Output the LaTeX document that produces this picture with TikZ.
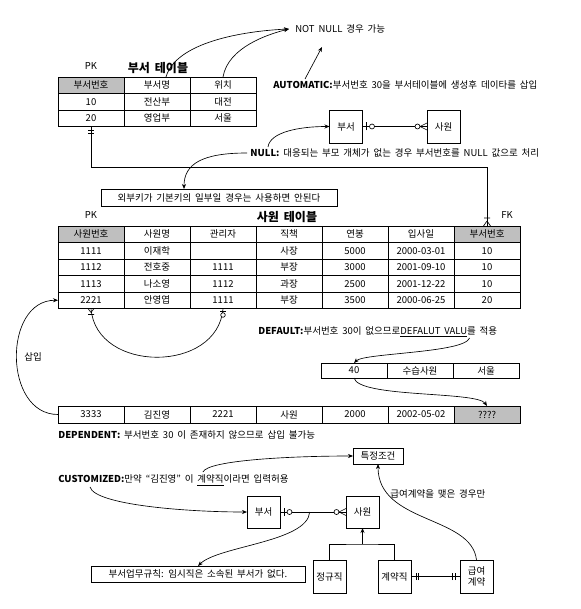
\documentclass[tikz,border=0pt]{standalone}
\usepackage{fontspec}
\setmainfont{Noto Sans CJK KR}[WordSpace=1.8]
\usetikzlibrary{positioning,arrows.meta,calc}

\begin{document}
\begin{tikzpicture}[
    x=1pt, y=-1pt,
    font=\fontsize{9.5}{11}\selectfont,
    line width=0.65pt,
    cell/.style   = {draw, line width=0.75pt, minimum width=66pt, minimum height=16.5pt,
                     inner sep=0pt, outer sep=0pt, anchor=north west},
    pkcell/.style = {cell, fill=gray!50},
    ent/.style    = {draw, minimum width=33pt, minimum height=33pt, align=center,
                     inner sep=0pt, outer sep=0pt},
    note/.style   = {draw, minimum height=17pt, inner sep=0pt, outer sep=0pt},
    txt/.style    = {inner sep=0pt, anchor=west},
    ttl/.style    = {font=\fontsize{12}{14}\selectfont\bfseries, inner sep=0pt},
    ar/.style     = {-{Stealth[length=5pt,width=4pt]}},
]
\useasboundingbox (0,0) rectangle (580,609);

% ---------------- dept table ----------------
\foreach \txt/\sty [count=\j] in {부서번호/pkcell, 부서명/cell, 위치/cell}
    \node[\sty] (d0\j) at ({58+66*(\j-1)},77) {\txt};
\foreach \row [count=\i] in {{10,전산부,대전},{20,영업부,서울}}
    \foreach \txt [count=\j] in \row
        \node[cell] (d\i\j) at ({58+66*(\j-1)},{77+16.5*\i}) {\txt};
\node[above=4pt of d01] (pk1) {PK};
\node[ttl] (ttl1) at (158,68) {부서 테이블};

% ---------------- employee table ----------------
\foreach \txt/\sty [count=\j] in {사원번호/pkcell, 사원명/cell, 관리자/cell, 직책/cell,
                                   연봉/cell, 입사일/cell, 부서번호/pkcell}
    \node[\sty] (e0\j) at ({58+66*(\j-1)},226) {\txt};
\foreach \row [count=\i] in {{1111,이재학,{},사장,5000,2000-03-01,10},
                             {1112,전호중,1111,부장,3000,2001-09-10,10},
                             {1113,나소영,1112,과장,2500,2001-12-22,10},
                             {2221,안영엽,1111,부장,3500,2000-06-25,20}}
    \foreach \txt [count=\j] in \row
        \node[cell] (e\i\j) at ({58+66*(\j-1)},{226+16.5*\i}) {\txt};
\node[above=4pt of e01] (pk2) {PK};
\node[ttl] (ttl2) at (287,217) {사원 테이블};
\node (fk) at (507,215) {FK};

% ---------------- NOT NULL / AUTOMATIC ----------------
\node[txt] (nn) at (295,29) {NOT NULL 경우 가능};
\node[txt] (auto) at (273,85) {\textbf{AUTOMATIC:}부서번호 30을 부서테이블에 생성후 데이타를 삽입};
\draw[ar] ([xshift=9pt]d02.north) .. controls +(10,-35) and +(-45,2) .. ([xshift=-6pt]nn.west);
\draw[ar] (d03.north) .. controls +(5,-30) and +(-20,5) .. ([xshift=-6pt]nn.west);
\draw[ar] ([xshift=32pt, yshift=6pt]auto.west) -- ([xshift=27pt, yshift=-18pt]nn.west);

% ---------------- NULL ----------------
\node[ent] (dept1) at (346,126.5) {부서};
\node[ent] (emp1) at (443.5,126.5) {사원};
\draw (dept1.east) -- (emp1.west);
\draw ([xshift=4pt, yshift=-4pt]dept1.east) -- ([xshift=4pt, yshift=4pt]dept1.east);
\draw[fill=white] ([xshift=9.5pt]dept1.east) circle (2.5pt);
\draw[fill=white] ([xshift=-9.5pt]emp1.west) circle (2.5pt);
\draw ([xshift=-7pt]emp1.west) -- ([yshift=3.5pt]emp1.west)
      ([xshift=-7pt]emp1.west) -- ([yshift=-3.5pt]emp1.west);

\node[txt] (nul) at (250,153) {\textbf{NULL:} 대응되는 부모 개체가 없는 경우 부서번호를 NULL 값으로 처리};
\node[note, minimum width=236pt] (fkrule) at (219,197.5) {외부키가 기본키의 일부일 경우는 사용하면 안된다};
\draw[ar] ([xshift=18pt, yshift=6pt]nul.west) .. controls +(2,-15) and +(-30,0) .. (dept1.west);
\draw[ar] ([xshift=-3pt]nul.west) .. controls +(-45,0) and +(0,-25) .. ([xshift=-35pt]fkrule.north);

% foreign key dept -> employee
\draw (d21.south) -- ++(0,40.5) -| (e07.north);
\draw ([xshift=-3pt, yshift=-4pt]d21.south) -- ([xshift=3pt, yshift=-4pt]d21.south)
      ([xshift=-3pt, yshift=-7pt]d21.south) -- ([xshift=3pt, yshift=-7pt]d21.south);
\draw ([xshift=-3pt, yshift=8pt]e07.north) -- ([xshift=3pt, yshift=8pt]e07.north)
      ([yshift=5pt]e07.north) -- ([xshift=-3.5pt]e07.north)
      ([yshift=5pt]e07.north) -- ([xshift=3.5pt]e07.north);

% self relation manager
\draw (e41.south) .. controls +(5,65) and +(-5,65) .. (e43.south);
\draw ([xshift=-3pt, yshift=-6pt]e41.south) -- ([xshift=3pt, yshift=-6pt]e41.south)
      ([yshift=-4pt]e41.south) -- ([xshift=-3pt]e41.south)
      ([yshift=-4pt]e41.south) -- ([xshift=3pt]e41.south);
\draw ([xshift=-3pt, yshift=-2.5pt]e43.south) -- ([xshift=3pt, yshift=-2.5pt]e43.south);
\draw[fill=white] ([yshift=-6.5pt]e43.south) circle (2.3pt);

% ---------------- DEFAULT ----------------
\node[txt] (dflt) at (258,332) {\textbf{DEFAULT:}부서번호 30이 없으므로\underline{DEFALUT VALU}를 적용};
\foreach \txt [count=\j] in {40,수습사원,서울}
    \node[cell, minimum height=15pt] (r\j) at ({321+66*(\j-1)},363) {\txt};
\foreach \txt/\sty [count=\j] in {3333/cell, 김진영/cell, 2221/cell, 사원/cell,
                                   2000/cell, 2002-05-02/cell, ????/pkcell}
    \node[\sty, minimum height=17pt] (n\j) at ({58+66*(\j-1)},406) {\txt};
\draw[ar] ([xshift=-28pt, yshift=-6pt]dflt.east) .. controls +(-5,15) and +(10,-10) .. (r1.north);
\draw[ar] (r1.south) .. controls +(5,20) and +(-10,-15) .. (n7.north);

% insert new row
\draw[ar] (n1.west) .. controls +(-55,0) and +(-55,0) .. (e41.west);
\node (ins) at (33,357) {삽입};

\node[txt] (dep) at (58,435) {\textbf{DEPENDENT:} 부서번호 30 이 존재하지 않으므로 삽입 불가능};

% ---------------- CUSTOMIZED ----------------
\node[txt] (cust) at (58,480) {\textbf{CUSTOMIZED:}만약 “김진영” 이 \underline{계약직}이라면 입력허용};
\node[note, minimum width=50pt, minimum height=16pt] (cond) at (378,456) {특정조건};
\node[ent, minimum height=32pt] (dept2) at (263.5,512) {부서};
\node[ent, minimum height=32pt] (emp2) at (362.5,512) {사원};
\node[note, minimum width=214pt, minimum height=16pt] (rule) at (198,574) {부서업무규칙: 임시직은 소속된 부서가 없다.};
\node[ent] (reg) at (329.5,576.5) {정규직};
\node[ent] (con) at (394.5,576.5) {계약직};
\node[ent] (sal) at (476.5,576.5) {급여\\계약};
\node[txt] (sallbl) at (390,494) {급여계약을 맺은 경우만};

\draw[ar] ([xshift=-86pt, yshift=8pt]cust.east) .. controls +(5,-12) and +(-60,0) .. (cond.west);
\draw[ar] ([xshift=32pt, yshift=-7pt]cust.west) .. controls +(5,18) and +(-60,0) .. (dept2.west);

\draw (dept2.east) -- (emp2.west);
\draw ([xshift=4pt, yshift=-4pt]dept2.east) -- ([xshift=4pt, yshift=4pt]dept2.east);
\draw[fill=white] ([xshift=9.5pt]dept2.east) circle (2.5pt);
\draw[fill=white] ([xshift=-9.5pt]emp2.west) circle (2.5pt);
\draw ([xshift=-7pt]emp2.west) -- ([yshift=3.5pt]emp2.west)
      ([xshift=-7pt]emp2.west) -- ([yshift=-3.5pt]emp2.west);
\coordinate (rel2) at ($(dept2.east)!0.45!(emp2.west)$);
\draw[ar] (rel2) .. controls +(-2,30) and +(20,-20) .. (rule.north);

% subtypes
\coordinate (isa) at ($(emp2.south)+(0,16)$);
\draw (reg.north) |- (isa) -| (con.north);
\draw[ar] (isa) -- (emp2.south);

\draw (con.east) -- (sal.west);
\draw ([xshift=5pt, yshift=-3.5pt]con.east) -- ([xshift=5pt, yshift=3.5pt]con.east)
      ([xshift=7.5pt, yshift=-3.5pt]con.east) -- ([xshift=7.5pt, yshift=3.5pt]con.east)
      ([xshift=-5pt, yshift=-3.5pt]sal.west) -- ([xshift=-5pt, yshift=3.5pt]sal.west)
      ([xshift=-7.5pt, yshift=-3.5pt]sal.west) -- ([xshift=-7.5pt, yshift=3.5pt]sal.west);
\draw[ar] (sal.north) .. controls +(-5,-45) and +(0,60) .. (cond.south);

\end{tikzpicture}
\end{document}
